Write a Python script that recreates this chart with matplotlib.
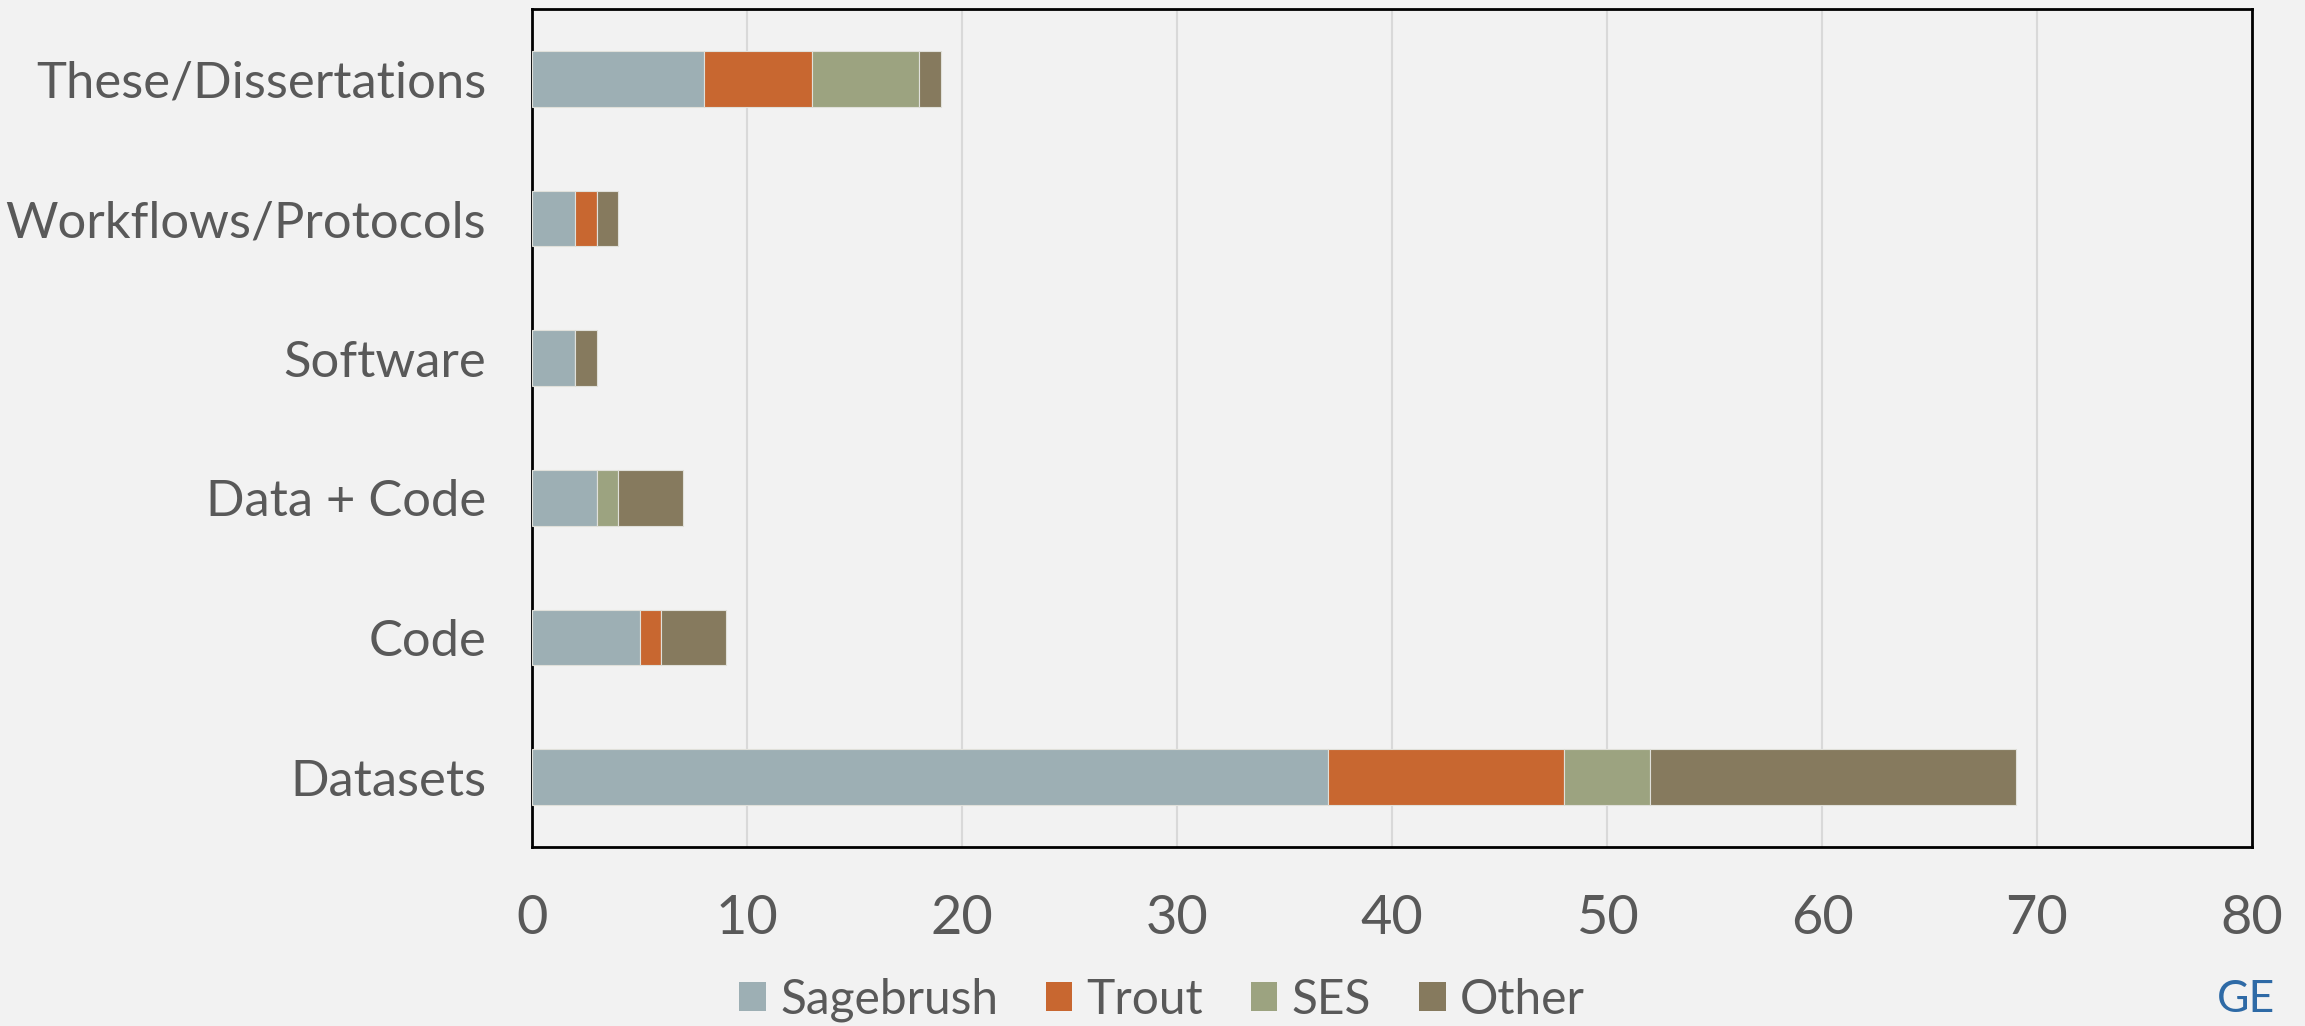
import matplotlib
matplotlib.use("Agg")
import matplotlib.pyplot as plt
from matplotlib.patches import Patch
import numpy as np

categories = ["Datasets", "Code", "Data + Code", "Software", "Workflows/Protocols", "These/Dissertations"]
series_names = ["Sagebrush", "Trout", "SES", "Other"]
sagebrush = [37, 5, 3, 2, 2, 8]
trout = [11, 1, 0, 0, 1, 5]
ses = [4, 0, 1, 0, 0, 5]
other = [17, 3, 3, 1, 1, 1]
colors = ["#9DAFB4", "#C86730", "#9CA380", "#867A5E"]
xticks = [0, 10, 20, 30, 40, 50, 60, 70, 80]

plt.rcParams['font.family'] = ['Lato', 'DejaVu Sans']
BG = "#F2F2F2"
TXT = "#595959"

fig = plt.figure(figsize=(23.05, 10.26), dpi=100, facecolor=BG)
ax = fig.add_axes([532/2305, 1-847/1026, (2252-532)/2305, (847-9)/1026], facecolor=BG)

y = np.arange(len(categories))
left = np.zeros(len(categories))
for name, vals, c in zip(series_names, [sagebrush, trout, ses, other], colors):
    v = np.array(vals, dtype=float)
    ax.barh(y, v, left=left, height=0.4, color=c, edgecolor="#E0E0DA", linewidth=0.8, label=name, zorder=3)
    left += v

ax.set_xlim(0, 80)
ax.set_ylim(-0.5, len(categories) - 0.5)
ax.set_xticks(xticks)
ax.set_yticks(y)
ax.set_yticklabels(categories)
ax.tick_params(axis='y', length=0, pad=33, labelsize=36.5, labelcolor=TXT)
ax.tick_params(axis='x', length=0, pad=34, labelsize=39, labelcolor=TXT)
ax.grid(axis='x', color="#D9D9D9", linewidth=1.5, zorder=0)
for s in ax.spines.values():
    s.set_color("black")
    s.set_linewidth(2)

handles = [Patch(facecolor=c, edgecolor='none') for c in colors]
fig.legend(handles, series_names, loc='center', bbox_to_anchor=(1162/2305, 1-1000/1026),
           ncol=4, frameon=False, fontsize=34.5, labelcolor=TXT,
           handlelength=0.55, handleheight=0.55, handletextpad=0.3, columnspacing=1.0)

fig.text(2217/2305, 1-1012/1026, "GE", color="#2E6AA6", fontsize=32, va='baseline', ha='left')

fig.savefig("out.png", dpi=100, facecolor=BG)
